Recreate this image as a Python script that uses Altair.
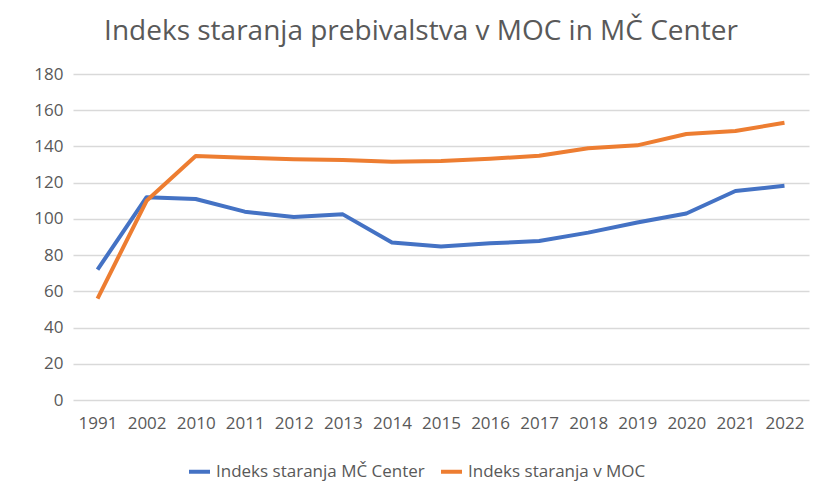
import altair as alt
import pandas as pd

years = ["1991", "2002", "2010", "2011", "2012", "2013", "2014", "2015",
         "2016", "2017", "2018", "2019", "2020", "2021", "2022"]
center = [72, 112, 111, 104, 101, 102.5, 87, 84.7, 86.5, 87.8, 92.4, 98, 103, 115.4, 118.3]
moc = [56, 110, 134.7, 133.8, 132.9, 132.5, 131.6, 132, 133.2, 134.9, 139, 140.6, 146.9, 148.5, 153.1]

s_center = "Indeks staranja MČ Center"
s_moc = "Indeks staranja v MOC"

df = pd.concat([
    pd.DataFrame({"year": years, "value": center, "series": s_center}),
    pd.DataFrame({"year": years, "value": moc, "series": s_moc}),
])

gray = "#595959"
fs = 17

chart = alt.Chart(df).mark_line(strokeWidth=4, strokeJoin="round").encode(
    x=alt.X("year:N", sort=years, title=None,
            scale=alt.Scale(paddingInner=0, paddingOuter=0.5),
            axis=alt.Axis(labelAngle=0, ticks=False, domain=False, grid=False,
                          labelPadding=15, labelFontSize=fs, labelColor=gray,
                          labelFont="Open Sans")),
    y=alt.Y("value:Q", title=None,
            scale=alt.Scale(domain=[0, 180], nice=False),
            axis=alt.Axis(values=list(range(0, 181, 20)), ticks=False, domain=False,
                          labelPadding=10, labelFontSize=fs, labelColor=gray,
                          labelFont="Open Sans", gridColor="#d9d9d9", gridWidth=1.3)),
    color=alt.Color("series:N",
                    scale=alt.Scale(domain=[s_center, s_moc], range=["#4472C4", "#ED7D31"]),
                    legend=alt.Legend(title=None, orient="none", direction="horizontal",
                                      legendX=187 - 73, legendY=459 - 74,
                                      symbolType="stroke", symbolStrokeWidth=4,
                                      symbolSize=441, labelFontSize=fs, labelColor=gray,
                                      labelFont="Open Sans", columnPadding=8,
                                      labelOffset=4, labelLimit=400)),
).properties(
    width=736,
    height=326,
    title=alt.TitleParams("Indeks staranja prebivalstva v MOC in MČ Center",
                          fontSize=28, font="Open Sans", fontWeight="normal",
                          color=gray, anchor="middle", offset=19, dx=-20),
    autosize=alt.AutoSizeParams(type="none"),
    padding={"left": 65, "top": 66, "right": 1, "bottom": 100},
).configure_view(stroke=None)

chart.save("out.html", embed_options={"renderer": "svg", "actions": False})
